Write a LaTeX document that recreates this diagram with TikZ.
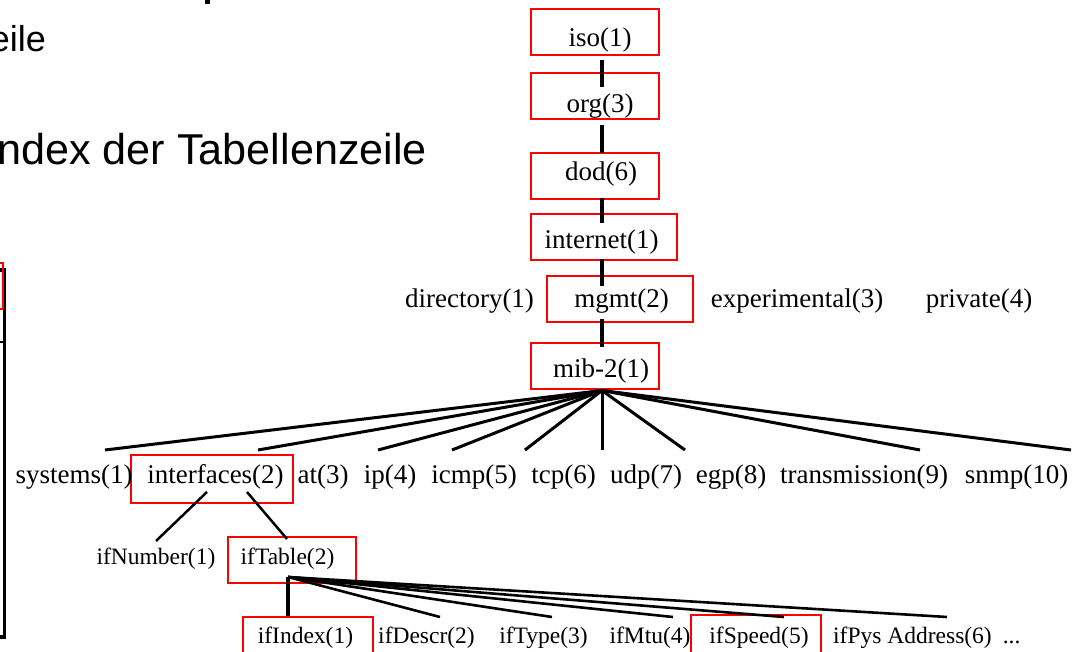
\documentclass[tikz,border=0pt]{standalone}
\usepackage{fontspec}
\setmainfont{Liberation Serif}
\newfontfamily\slidesans{Liberation Sans}
\usetikzlibrary{calc}
\begin{document}
\begin{tikzpicture}[x=1pt,y=-1pt,
  oidbox/.style={draw=red, line width=2pt, minimum width=#1, minimum height=46pt, inner sep=0pt},
  big/.style={font=\fontsize{27}{32}\selectfont, anchor=base, inner sep=0pt},
  small/.style={font=\fontsize{23.5}{28}\selectfont, anchor=base, inner sep=0pt},
  branch/.style={line width=3pt},
  trunk/.style={line width=3.5pt}]
\useasboundingbox (0,0) rectangle (1073,652);
\clip (0,0) rectangle (1073,652);

% slide text running in from the left
\fill (204.5,0) rectangle (209.5,4.5);
\node[font=\slidesans\fontsize{36}{40}\selectfont, anchor=base east, inner sep=0pt] (lineA) at (46,52) {eile};
\node[font=\slidesans\fontsize{43.2}{48}\selectfont, anchor=base west, inner sep=0pt] (lineB) at (-3,165) {ndex der Tabellenzeile};

% edge of the table on the left
\draw[line width=3.5pt] (-10,270) -- (4.5,270) -- (4.5,637) -- (-10,637);
\draw[line width=2.5pt] (-10,342) -- (4.5,342);
\draw[red, line width=2pt] (-10,263) -- (2.5,263) -- (2.5,309) -- (-10,309);

% highlighted path boxes
\node[oidbox=128pt] (iso) at (595,32) {};
\node[oidbox=128pt] (org) at (595,96) {};
\node[oidbox=128pt] (dod) at (595,176) {};
\node[oidbox=146pt] (internet) at (604,237) {};
\node[oidbox=146pt] (mgmt) at (620,299) {};
\node[oidbox=128pt] (mib) at (595,366) {};
\node[oidbox=162pt, minimum height=48pt] (interfaces) at (212,479) {};
\node[oidbox=128pt] (iftable) at (292,560) {};
\node[oidbox=130pt] (ifindex) at (308,640) {};
\node[oidbox=130pt] (ifspeed) at (756,638) {};

% labels of the upper tree
\node[big] (isoT) at (600,46.5) {iso(1)};
\node[big] (orgT) at (600,113) {org(3)};
\node[big] (dodT) at (601,181) {dod(6)};
\node[big] (internetT) at (601.5,249) {internet(1)};
\node[big] (mgmtT) at (621.5,307) {mgmt(2)};
\node[big] (directoryT) at (469.5,307) {directory(1)};
\node[big] (experimentalT) at (797,307) {experimental(3)};
\node[big] (privateT) at (979,307) {private(4)};
\node[big] (mibT) at (601,377) {mib-2(1)};

% mib-2 children
\node[big] (systemsT) at (74,483) {systems(1)};
\node[big] (interfacesT) at (215.5,483) {interfaces(2)};
\node[big] (atT) at (323,483) {at(3)};
\node[big] (ipT) at (390,483) {ip(4)};
\node[big] (icmpT) at (474,483) {icmp(5)};
\node[big] (tcpT) at (563.5,483) {tcp(6)};
\node[big] (udpT) at (646,483) {udp(7)};
\node[big] (egpT) at (731,483) {egp(8)};
\node[big] (transmissionT) at (864,483) {transmission(9)};
\node[big] (snmpT) at (1016.5,483) {snmp(10)};

% interfaces children
\node[small] (ifnumberT) at (156,564) {ifNumber(1)};
\node[small] (iftableT) at (287.5,564) {ifTable(2)};

% ifTable columns
\node[small] (ifindexT) at (305.5,643) {ifIndex(1)};
\node[small] (ifdescrT) at (426.5,643) {ifDescr(2)};
\node[small] (iftypeT) at (543.5,643) {ifType(3)};
\node[small] (ifmtuT) at (650,643) {ifMtu(4)};
\node[small] (ifspeedT) at (759,643) {ifSpeed(5)};
\node[small, anchor=base west] (ifpysT) at (833,643) {ifPys Address(6)\hspace{11pt}...};

% trunk from iso down to mib-2
\draw[trunk] ($(iso.south)+(7,4)$) -- ($(org.north)+(7,15)$);
\draw[trunk] ($(org.south)+(7,5)$) -- ($(dod.north)+(7,1)$);
\draw[trunk] ($(dod.south)+(7,-2)$) -- ($(internet.north)+(-2,10)$);
\draw[trunk] ($(internet.south)+(-2,-2)$) -- ($(mgmt.north)+(-18,11)$);
\draw[trunk] ($(mgmt.south)+(-18,-4)$) -- ($(mib.north)+(7,5)$);

% fan below mib-2
\coordinate (mibhub) at ($(mib.south)+(7,0.5)$);
\foreach \n/\x in {1/105,2/258,3/378,4/452,5/525,6/602,7/685,8/920,9/1071} {
  \coordinate (m\n) at (\x,450);
  \draw[branch] (mibhub) -- (m\n);
}

% branches below interfaces
\coordinate (ifnumEnd) at (156,541);
\draw[branch, line width=2.5pt] ($(interfaces.south)+(-5,-12)$) -- (ifnumEnd);
\draw[branch, line width=2.5pt] ($(interfaces.south)+(35,-12)$) -- ($(iftable.north)+(-5,3)$);

% fan below ifTable
\coordinate (tabhub) at ($(iftable.south)+(-4,-7)$);
\draw[trunk] (tabhub) -- (tabhub |- ifindex.north);
\foreach \n/\x in {2/440,3/552,4/673,5/784,6/947} {
  \coordinate (t\n) at (\x,617);
  \draw[branch, line width=2.6pt] (tabhub) -- (t\n);
}
\end{tikzpicture}
\end{document}
